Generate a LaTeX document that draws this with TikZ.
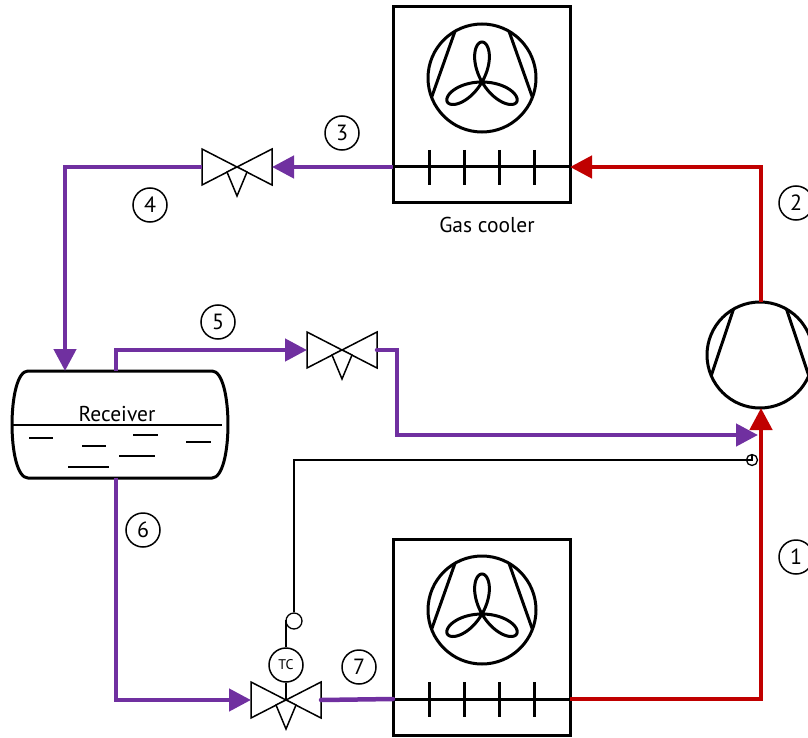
\documentclass[tikz,border=0pt]{standalone}
\usepackage{fontspec}
\setmainfont{PT Sans}
\usepackage{tikz}
\usetikzlibrary{arrows, arrows.meta}
\usetikzlibrary{shapes.geometric, math, positioning, calc}
\usepackage{xcolor}

\definecolor{pipered}{HTML}{C00000}
\definecolor{pipepurple}{HTML}{7030A0}

\tikzset{
  unitline/.style={line width=3pt},
  thinline/.style={line width=1.4pt},
  valveline/.style={line width=1.5pt, fill=white, line join=miter},
  signal/.style={line width=1.3pt},
  pipe/.style={line width=4.5pt},
  hot/.style={pipe, draw=pipered},
  cold/.style={pipe, draw=pipepurple},
  flow/.style={-{Triangle[length=22pt, width=22pt]}},
  tag/.style={circle, draw, line width=1.5pt, minimum size=34pt, inner sep=0pt,
    font=\fontsize{22}{22}\selectfont},
  label/.style={font=\fontsize{21.5}{21.5}\selectfont, anchor=base}
}

% fan heat exchanger: name, centre of box
\newcommand{\fanunit}[2]{
  \begin{scope}[shift={#2}]
    \coordinate (#1-l) at (-88.5, 62);
    \coordinate (#1-r) at (88.5, 62);
    \draw[unitline] (-88.5, -98) rectangle (88.5, 98);
    \draw[unitline] (0.5, -27) circle[radius=54pt];
    \draw[unitline] ($(0.5, -27)+(240:54)$) -- ($(0.5, -27)+(159:54)$);
    \draw[unitline] ($(0.5, -27)+(300:54)$) -- ($(0.5, -27)+(21:54)$);
    \draw[unitline, shift={(0.5, -23)}] plot[domain=0:180, samples=121, smooth]
      ({40*sin(3*\x)*cos(\x)}, {40*sin(3*\x)*sin(\x)});
    \draw[unitline] (-88.5, 62) -- (88.5, 62);
    \foreach \t in {-52.5, -17.5, 17.5, 52.5}
      \draw[unitline] (\t, 45) -- (\t, 80);
  \end{scope}
}

% expansion valve: name, centre
\newcommand{\valvesym}[2]{
  \begin{scope}[shift={#2}]
    \coordinate (#1) at (0, 0);
    \coordinate (#1-l) at (-35, 0);
    \coordinate (#1-r) at (35, 0);
    \draw[valveline] (-35, -18) -- (35, 18) -- (35, -18) -- (-35, 18) -- cycle;
    \draw[valveline] (0, 0) -- (-10, 5) -- (0, 29) -- (10, 5) -- cycle;
  \end{scope}
}

\begin{document}
\begin{tikzpicture}[x=1pt, y=-1pt]
  \useasboundingbox (0, 0) rectangle (808, 738);

  \fanunit{gc}{(481.5, 105)}
  \fanunit{ev}{(481.5, 637)}
  \node[label] (gclabel) at (487, 233) {Gas cooler};

  % compressor
  \coordinate (cp) at (760, 355);
  \coordinate (cp-top) at (761, 302);
  \coordinate (cp-bot) at (761, 408);
  \coordinate (cp-in) at (758, 435);
  \draw[unitline] (cp) circle[radius=53pt];
  \draw[unitline] ($(cp)+(240:53)$) -- ($(cp)+(157:53)$);
  \draw[unitline] ($(cp)+(300:53)$) -- ($(cp)+(23:53)$);

  % receiver
  \coordinate (rc-in) at (65, 371);
  \coordinate (rc-top) at (116, 371);
  \coordinate (rc-bot) at (116, 478);
  \draw[unitline] (28, 371) -- (212, 371)
    .. controls (233.3, 371) and (233.3, 478) .. (212, 478)
    -- (28, 478)
    .. controls (6.7, 478) and (6.7, 371) .. (28, 371) -- cycle;
  \draw[thinline] (12, 425) -- (222, 425);
  \draw[thinline] (29, 438) -- (53, 438);
  \draw[thinline] (82, 446) -- (106, 446);
  \draw[thinline] (133, 435) -- (158, 435);
  \draw[thinline] (186, 442) -- (211, 442);
  \draw[thinline] (119, 456) -- (155, 456);
  \draw[thinline] (68, 467) -- (109, 467);
  \node[label] (rclabel) at (117, 421) {Receiver};

  \valvesym{va}{(237, 167)}
  \valvesym{vb}{(342, 350)}
  \valvesym{vc}{(286, 700)}

  % pipes
  \draw[hot, flow] (cp-top) |- (gc-r);
  \draw[hot, flow] (ev-r) -| (cp-bot);
  \draw[cold, flow] (gc-l) -- (va-r);
  \draw[cold, flow] (va-l) -| (rc-in);
  \draw[cold, flow] (rc-top) |- (vb-l);
  \coordinate (bend) at (397, 435);
  \draw[cold, flow, line cap=round] (vb-r) -| (bend) -- (cp-in);
  \draw[cold, flow] (rc-bot) |- (vc-l);
  \draw[cold, line cap=round] (vc-r) -- (ev-l);

  % thermostatic control
  \node[tag, font=\fontsize{14}{14}\selectfont] (tc) at (286, 665) {TC};
  \node[circle, draw, line width=1.3pt, minimum size=16pt, inner sep=0pt] (cap) at (294, 621) {};
  \node[circle, draw, line width=1.3pt, minimum size=11pt, inner sep=0pt] (bulb) at (752, 460) {};
  \draw[signal] (tc) -- (vc);
  \draw[signal] (tc.north) -- (tc.north |- cap.west) -- (cap.west);
  \draw[signal] (cap.north) |- (bulb.center) -- (bulb.north);

  % state points
  \node[tag] (p1) at (796, 557) {1};
  \node[tag] (p2) at (796, 203) {2};
  \node[tag] (p3) at (342, 133) {3};
  \node[tag] (p4) at (150, 205) {4};
  \node[tag] (p5) at (218, 322) {5};
  \node[tag] (p6) at (143, 530) {6};
  \node[tag] (p7) at (359, 667) {7};
\end{tikzpicture}
\end{document}
